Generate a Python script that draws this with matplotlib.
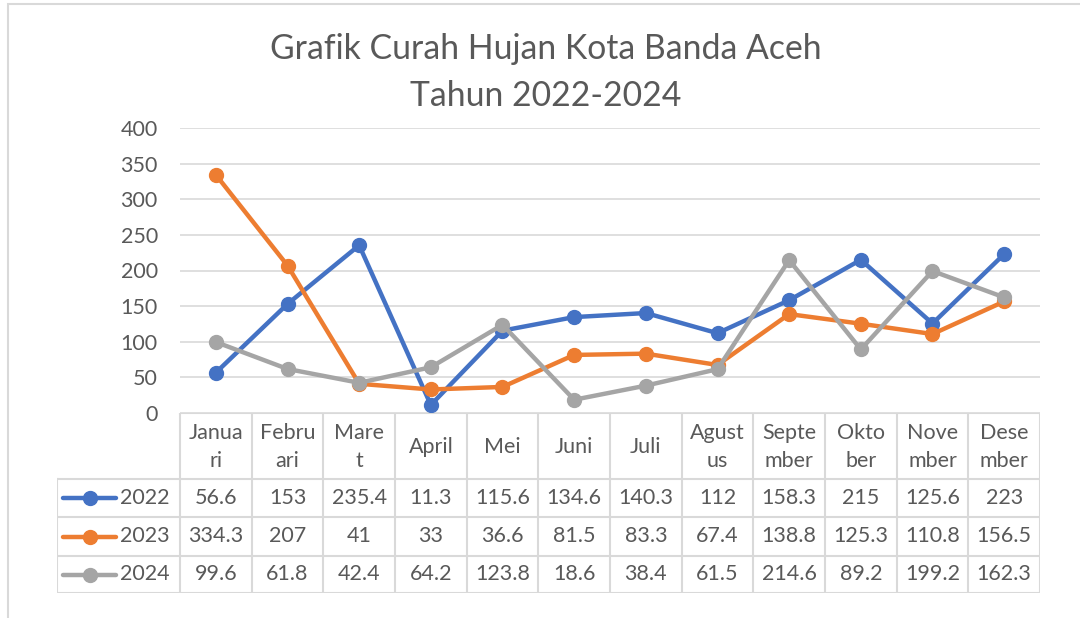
import matplotlib
matplotlib.use('Agg')
import matplotlib.pyplot as plt
from matplotlib.patches import Rectangle
import numpy as np

# data
months = ['Januari', 'Februari', 'Maret', 'April', 'Mei', 'Juni', 'Juli',
          'Agustus', 'September', 'Oktober', 'November', 'Desember']
# header text as wrapped in the table cells
month_cells = ['Janua\nri', 'Febru\nari', 'Mare\nt', 'April', 'Mei', 'Juni', 'Juli',
               'Agust\nus', 'Septe\nmber', 'Okto\nber', 'Nove\nmber', 'Dese\nmber']
years = ['2022', '2023', '2024']
rain_2022 = [56.6, 153, 235.4, 11.3, 115.6, 134.6, 140.3, 112, 158.3, 215, 125.6, 223]
rain_2023 = [334.3, 207, 41, 33, 36.6, 81.5, 83.3, 67.4, 138.8, 125.3, 110.8, 156.5]
rain_2024 = [99.6, 61.8, 42.4, 64.2, 123.8, 18.6, 38.4, 61.5, 214.6, 89.2, 199.2, 162.3]
yticks = [0, 50, 100, 150, 200, 250, 300, 350, 400]

series = [rain_2022, rain_2023, rain_2024]
colors = ['#4472C4', '#ED7D31', '#A5A5A5']
txt_col = '#595959'
grid_col = '#D9D9D9'
FONT = 'Lato'
FS = 15.5

plt.rcParams['font.family'] = [FONT, 'DejaVu Sans']

W, H = 1080, 618
fig = plt.figure(figsize=(W / 100, H / 100), dpi=100)


def fx(px):
	return px / W


def fy(py):
	return 1 - py / H


# outer chart frame
fig.patches.append(Rectangle((fx(8), fy(700)), fx(1200), fy(4) - fy(700),
                             transform=fig.transFigure, fill=False,
                             edgecolor=grid_col, lw=1.5))

# title
fig.text(0.5056, fy(49), 'Grafik Curah Hujan Kota Banda Aceh', ha='center', va='center',
         fontsize=24.3, color=txt_col)
fig.text(0.5056, fy(96), 'Tahun 2022-2024', ha='center', va='center',
         fontsize=24.3, color=txt_col)

# main plot
left, right = fx(180), fx(1040)
ax = fig.add_axes([left, fy(413), right - left, fy(128) - fy(413)])
x = np.arange(len(months))
for vals, c in zip(series, colors):
	ax.plot(x, vals, color=c, lw=3.2, marker='o', markersize=10, solid_capstyle='round')
ax.set_xlim(-0.5, len(months) - 0.5)
ax.set_ylim(0, 400)
ax.set_yticks(yticks)
ax.set_xticks([])
ax.tick_params(axis='y', length=0, pad=16, labelsize=FS, labelcolor=txt_col)
ax.grid(axis='y', color=grid_col, lw=1.2)
ax.set_axisbelow(True)
for s in ax.spines.values():
	s.set_visible(False)

# data table below plot
leg_w = (180 - 57) / (860 / 12)
tx0 = -0.5 - leg_w
tax = fig.add_axes([fx(57), fy(593), fx(1040) - fx(57), fy(413) - fy(593)])
tax.set_xlim(tx0, len(months) - 0.5)
tax.set_ylim(180, 0)
tax.axis('off')
rows = [0, 66, 104, 143, 180]
tl = dict(color=grid_col, lw=1.5, solid_capstyle='projecting')
tax.plot([-0.5, len(months) - 0.5], [0, 0], **tl)
for r in rows[1:]:
	tax.plot([tx0, len(months) - 0.5], [r, r], **tl)
for k in range(len(months) + 1):
	tax.plot([k - 0.5, k - 0.5], [0, 180], **tl)
tax.plot([tx0, tx0], [rows[1], 180], **tl)

for i, lab in enumerate(month_cells):
	tax.text(i, rows[1] / 2 + 1, lab, ha='center', va='center', fontsize=FS,
	         color=txt_col, linespacing=1.55)

for j, (yr, vals, c) in enumerate(zip(years, series, colors)):
	yc = (rows[j + 1] + rows[j + 2]) / 2
	lx0 = tx0 + leg_w * 0.05
	lx1 = tx0 + leg_w * 0.48
	tax.plot([lx0, lx1], [yc, yc], color=c, lw=3.2, solid_capstyle='round')
	tax.plot([(lx0 + lx1) / 2], [yc], marker='o', color=c, markersize=10)
	tax.text(tx0 + leg_w * 0.51, yc, yr, ha='left', va='center', fontsize=FS, color=txt_col)
	for i, v in enumerate(vals):
		tax.text(i, yc, f'{v:g}', ha='center', va='center', fontsize=FS, color=txt_col)

fig.savefig('out.png', dpi=100, facecolor='white')
